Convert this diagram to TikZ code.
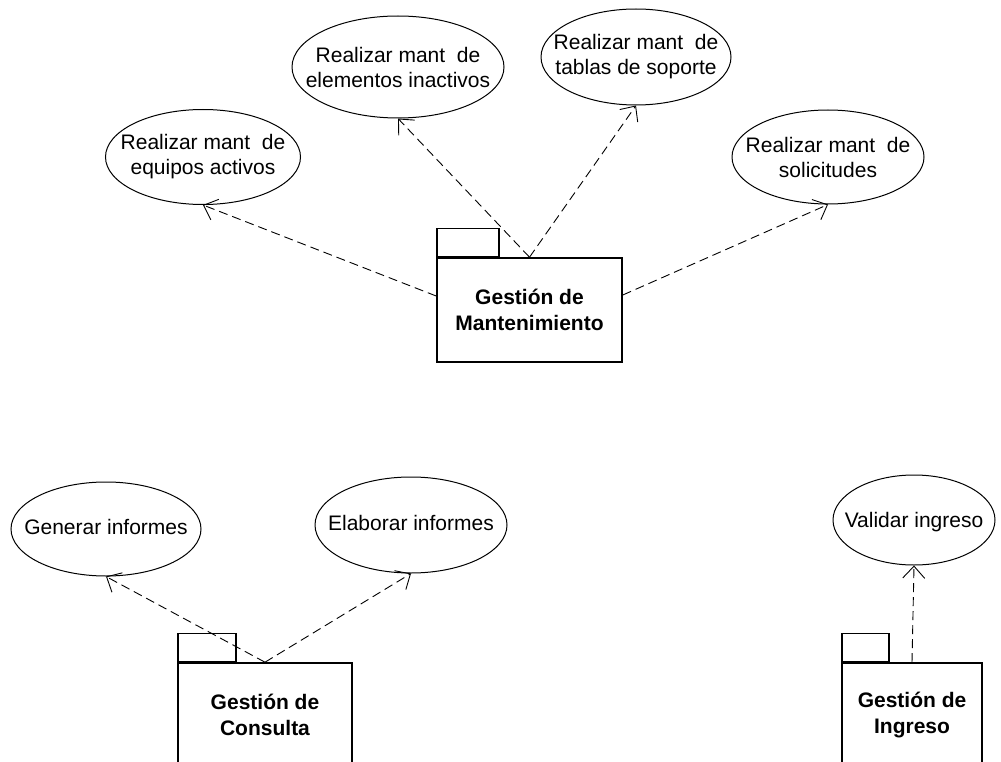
\documentclass[tikz,border=0pt]{standalone}
\usepackage{fontspec}
\setmainfont{Liberation Sans}
\usetikzlibrary{shapes.geometric,arrows.meta}
\begin{document}
\begin{tikzpicture}[x=1pt,y=-1pt,
  uc/.style={ellipse,draw,line width=1pt,inner sep=0pt},
  uctext/.style={inner sep=0pt,align=center,
    font=\fontsize{21}{25}\selectfont},
  pkg/.style={rectangle,draw,line width=1.6pt,inner sep=0pt,align=center,
    font=\bfseries\fontsize{21}{26}\selectfont},
  tabbox/.style={rectangle,draw,line width=1.6pt,inner sep=0pt,
    minimum width=#1,minimum height=28pt,anchor=south west},
  dep/.style={line width=0.9pt,dash pattern=on 9pt off 5pt,
    -{Straight Barb[length=12pt,width=22pt,line width=0.9pt]}}
]
\useasboundingbox (0,0) rectangle (1001,762);
\fill[white] (0,0) rectangle (1001,762);

% use cases (outline, then text)
\node[uc,minimum width=195pt,minimum height=95pt] (e1) at (203,157) {};
\node[uctext] (e1t) at (e1.center) {Realizar mant\ \ de\\equipos activos};
\node[uc,minimum width=212pt,minimum height=102pt] (e2) at (398,67) {};
\node[uctext] (e2t) at (e2.center) {Realizar mant\ \ de\\elementos inactivos};
\node[uc,minimum width=190pt,minimum height=96pt] (e3) at (636,57) {};
\node[uctext] (e3t) at (e3.center) {Realizar mant\ \ de\\tablas de soporte};
\node[uc,minimum width=192pt,minimum height=94pt] (e4) at (828,157) {};
\node[uctext] (e4t) at (e4.center) {Realizar mant\ \ de\\solicitudes};
\node[uc,minimum width=190pt,minimum height=94pt] (e5) at (106,529) {};
\node[uctext] (e5t) at ([yshift=2pt]e5.center) {Generar informes};
\node[uc,minimum width=192pt,minimum height=96pt] (e6) at (411,525) {};
\node[uctext] (e6t) at ([yshift=2pt]e6.center) {Elaborar informes};
\node[uc,minimum width=162pt,minimum height=90pt] (e7) at (914,520) {};
\node[uctext] (e7t) at ([yshift=-2pt]e7.center) {Validar ingreso};

% packages
\node[pkg,minimum width=185pt,minimum height=104pt] (mant) at (529.5,310) {Gesti\'on de\\Mantenimiento};
\node[tabbox=62pt] (manttab) at (mant.north west) {};
\node[pkg,minimum width=174pt,minimum height=104pt] (cons) at (265,715) {Gesti\'on de\\Consulta};
\node[tabbox=58pt] (constab) at (cons.north west) {};
\node[pkg,minimum width=140pt,minimum height=104pt] (ing) at (912,715) {Gesti\'on de\\Ingreso};
\node[tabbox=47pt] (ingtab) at (ing.north west) {};

% dependencies
\draw[dep] ([yshift=14pt]mant.west) -- (e1.south);
\draw[dep] (mant.north) -- (e2.south);
\draw[dep] (mant.north) -- (e3.south);
\draw[dep] ([yshift=15pt]mant.east) -- (e4.south);
\draw[dep] (cons.north) -- (e5.south);
\draw[dep] (cons.north) -- (e6.south);
\draw[dep] (ing.north) -- (e7.south);
\end{tikzpicture}
\end{document}
